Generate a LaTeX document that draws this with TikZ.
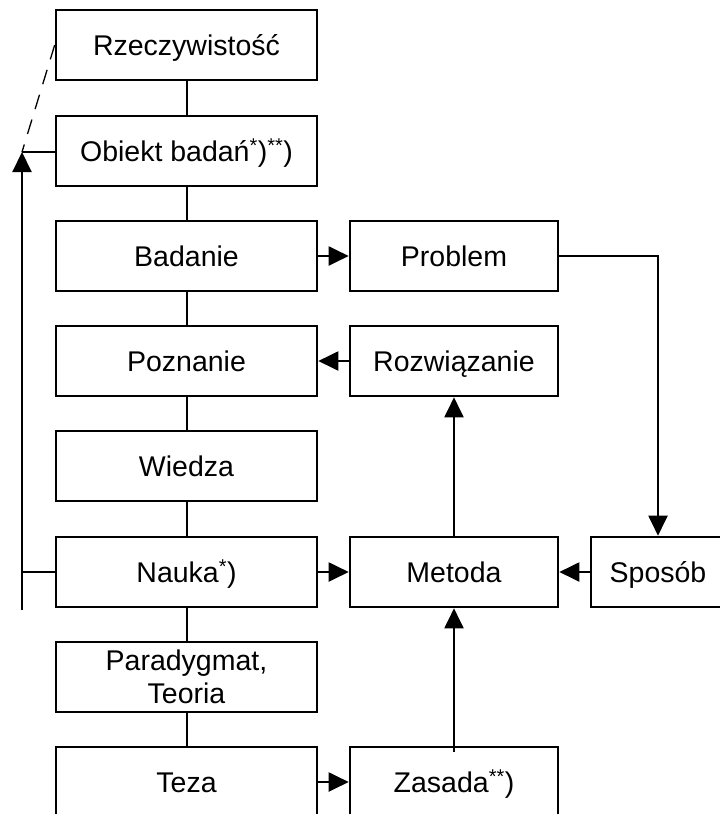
\documentclass[tikz,border=0pt]{standalone}
\usepackage{fontspec}
\setmainfont{Liberation Sans}
\usetikzlibrary{arrows.meta}

\begin{document}
\begin{tikzpicture}[x=1pt, y=-1pt,
  box/.style={draw, line width=2.6pt, rectangle, inner sep=0pt,
    minimum height=70pt, align=center,
    font=\fontsize{28.5}{33}\selectfont},
  oneline/.style={text height=21pt, text depth=0.6pt},
  leftbox/.style={box, minimum width=261pt},
  rightbox/.style={box, oneline, minimum width=208pt},
  link/.style={line width=2pt},
  arr/.style={link, -{Triangle[length=20pt, width=19pt]}},
  dashlink/.style={line width=1.3pt, dash pattern=on 15pt off 11pt}
]
\useasboundingbox (0,0) rectangle (720,814);
\clip (0,0) rectangle (720,814);

% main column
\node[leftbox, oneline] (rz)  at (186.5,45)  {Rzeczywistość};
\node[leftbox, oneline] (ob)  at (186.5,151) {Obiekt badań\textsuperscript{*})\textsuperscript{**})};
\node[leftbox, oneline] (bad) at (186.5,256) {Badanie};
\node[leftbox, oneline] (poz) at (186.5,361) {Poznanie};
\node[leftbox, oneline] (wie) at (186.5,466) {Wiedza};
\node[leftbox, oneline] (nau) at (186.5,572) {Nauka\textsuperscript{*})};
\node[leftbox] (par) at (186.5,677) {Paradygmat,\\Teoria};
\node[leftbox, oneline] (tez) at (186.5,782) {Teza};

% right column
\node[rightbox] (prob) at (454,256) {Problem};
\node[rightbox] (roz)  at (454,361) {Rozwiązanie};
\node[rightbox] (met)  at (454,572) {Metoda};
\node[rightbox] (zas)  at (454,782) {Zasada\textsuperscript{**})};
\node[box, oneline, minimum width=134pt] (spo) at (658,572) {Sposób};

% column links
\draw[link] (rz) -- (ob);
\draw[link] (ob) -- (bad);
\draw[link] (bad) -- (poz);
\draw[link] (poz) -- (wie);
\draw[link] (wie) -- (nau);
\draw[link] (nau) -- (par);
\draw[link] (par) -- (tez);

% horizontal arrows
\draw[arr] (bad.east) -- (prob.west);
\draw[arr] (roz.west) -- (poz.east);
\draw[arr] (nau.east) -- (met.west);
\draw[arr] (tez.east) -- (zas.west);
\draw[arr] (spo.west) -- (met.east);

% vertical arrows
\draw[arr] (met.north) -- (roz.south);
\draw[arr] ([yshift=-6pt]zas.north) -- (met.south);
\draw[arr] (prob.east) -| (spo.north);

% feedback on the left
\coordinate (lb) at (22,610);
\coordinate (lt) at (22,152);
\draw[arr] (lb) -- (lt);
\draw[link] (ob.west |- lt) -- (lt);
\draw[link] (nau.west) -- (nau.west -| lb);
\draw[dashlink] (rz.west) -- (lt);
\end{tikzpicture}
\end{document}
